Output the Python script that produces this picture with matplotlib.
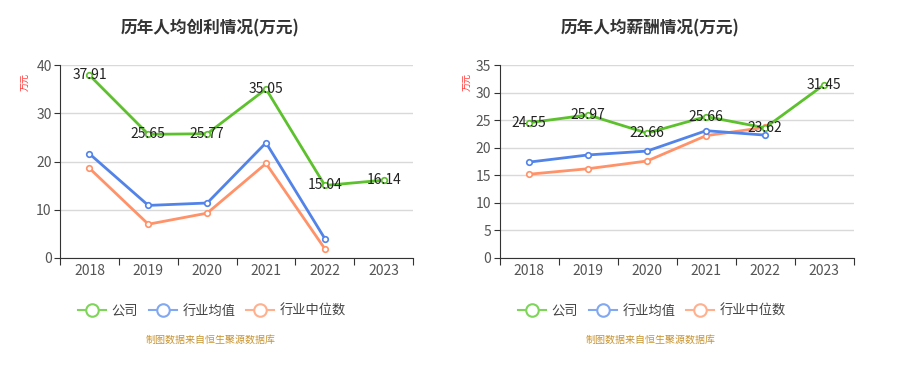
import matplotlib
matplotlib.use("Agg")
import matplotlib.pyplot as plt
from matplotlib.lines import Line2D

plt.rcParams['font.family'] = ['Noto Sans CJK SC', 'DejaVu Sans']

years = ["2018", "2019", "2020", "2021", "2022", "2023"]

# 历年人均创利
profit_company = [37.91, 25.65, 25.77, 35.05, 15.04, 16.14]
profit_mean = [21.6, 10.9, 11.4, 23.9, 4.0]
profit_median = [18.6, 7.0, 9.3, 19.6, 1.9]

# 历年人均薪酬
salary_company = [24.55, 25.97, 22.66, 25.66, 23.62, 31.45]
salary_mean = [17.4, 18.7, 19.4, 23.1, 22.3]
salary_median = [15.2, 16.2, 17.6, 22.2, 23.7]

series_names = ["公司", "行业均值", "行业中位数"]
colors = ["#5cc12c", "#5283e8", "#ff9268"]
legend_colors = ["#7fd45a", "#82a8f2", "#ffb08e"]

fig = plt.figure(figsize=(9.1, 3.68), dpi=100)


def draw(ax, company, mean, median, ymax, ystep):
    x = list(range(len(years)))
    for vals, c in [(median, colors[2]), (mean, colors[1]), (company, colors[0])]:
        ax.plot(x[:len(vals)], vals, color=c, lw=2, marker="o", ms=4,
                mfc="white", mec=c, mew=1.2, zorder=3)
    for xi, v in zip(x, company):
        ax.text(xi, v, f"{v:.2f}", ha="center", va="center", fontsize=10,
                color="#222222", zorder=4)
    ax.set_xlim(-0.5, len(years) - 0.5)
    ax.set_ylim(0, ymax)
    ax.set_yticks(range(0, ymax + 1, ystep))
    ax.set_xticks([i - 0.5 for i in range(len(years) + 1)])
    ax.set_xticklabels([])
    ax.set_xticks(x, minor=True)
    ax.set_xticklabels(years, minor=True)
    ax.tick_params(axis="x", which="major", length=5, color="#333333", direction="out")
    ax.tick_params(axis="x", which="minor", length=0, labelsize=10, colors="#555555", pad=4)
    ax.tick_params(axis="y", length=4, color="#333333", labelsize=10, labelcolor="#555555",
                   pad=2)
    ax.grid(axis="y", color="#d9d9d9", lw=1)
    ax.set_axisbelow(True)
    for s in ["top", "right"]:
        ax.spines[s].set_visible(False)
    ax.spines["left"].set_color("#333333")
    ax.spines["bottom"].set_color("#333333")


ax1 = fig.add_axes([0.066, 0.299, 0.388, 0.524])
draw(ax1, profit_company, profit_mean, profit_median, 40, 10)
ax2 = fig.add_axes([0.549, 0.299, 0.389, 0.524])
draw(ax2, salary_company, salary_mean, salary_median, 35, 5)

fig.text(210 / 910, 1 - 28 / 368, "历年人均创利情况(万元)", ha="center", va="center",
         fontsize=12, fontweight="bold", color="#333333")
fig.text(650 / 910, 1 - 28 / 368, "历年人均薪酬情况(万元)", ha="center", va="center",
         fontsize=12, fontweight="bold", color="#333333")

for xp in [26, 468]:
    fig.text(xp / 910, 1 - 82 / 368, "万元", rotation=90, ha="center", va="center",
             fontsize=6.5, color="#ff3333")

# legends
for x0 in [78, 518]:
    handles = [Line2D([0], [0], color=c, lw=1.5, marker="o", ms=9, mfc="white",
                      mec=c, mew=1.5) for c in legend_colors]
    fig.legend(handles, series_names, loc="center left",
               bbox_to_anchor=(x0 / 910 - 0.01, 1 - 311 / 368), ncol=3, frameon=False,
               fontsize=9.5, labelcolor="#444444", handlelength=2.1, handletextpad=0.45,
               columnspacing=0.8, borderpad=0.2)

for xc in [211, 651]:
    fig.text(xc / 910, 1 - 340 / 368, "制图数据来自恒生聚源数据库", ha="center", va="center",
             fontsize=7.2, color="#c8932c")

fig.savefig("out.png", dpi=100)
